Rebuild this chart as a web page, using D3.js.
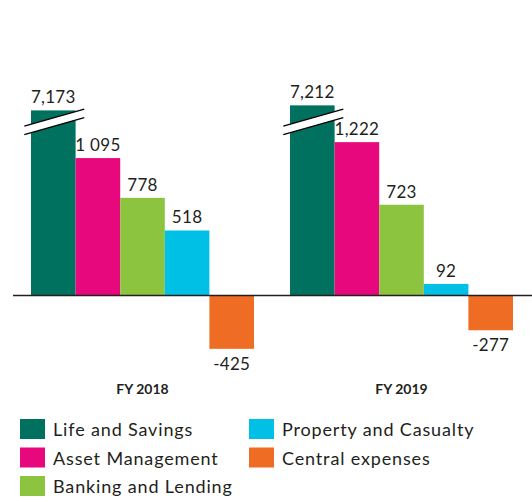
<!DOCTYPE html>
<html lang="en">
<head>
  <meta charset="UTF-8">
  <title>Operating result by segment</title>
  <style>
    body { margin: 0; background: #fff; }
    text { font-family: Lato, "Open Sans", sans-serif; fill: #231f20; }
  </style>
</head>
<body>
  <div id="my_dataviz"></div>
  <script src="https://d3js.org/d3.v7.min.js"></script>
  <script>
    // data
    var years = ["FY 2018", "FY 2019"];
    var segments = ["Life and Savings", "Asset Management", "Banking and Lending", "Property and Casualty", "Central expenses"];
    var lifeSavings = [7173, 7212];
    var assetManagement = [1095, 1222];
    var bankingLending = [778, 723];
    var propertyCasualty = [518, 92];
    var centralExpenses = [-425, -277];
    var labels2018 = ["7,173", "1 095", "778", "518", "-425"];
    var labels2019 = ["7,212", "1,222", "723", "92", "-277"];
    // Life bars are drawn cut (axis break), this is the height shown
    var lifeShown = [1475, 1515];
    var breakAt = 1350;

    var colors = ["#00705f", "#e8087e", "#8cc43f", "#00c0e6", "#ef6c25"];

    var series = [lifeSavings, assetManagement, bankingLending, propertyCasualty, centralExpenses];
    var labels = [labels2018, labels2019];

    var width = 532, height = 502;
    var svg = d3.select("#my_dataviz").append("svg")
      .attr("width", width).attr("height", height);

    // scales
    var x0 = d3.scaleBand().domain(years).range([31, 513]).paddingInner(36 / 259).paddingOuter(0);
    var x1 = d3.scaleBand().domain(segments).range([0, x0.bandwidth()]);
    var y = d3.scaleLinear().domain([-500, 1600]).range([358.25, 94.7]);

    var data = [];
    years.forEach(function (yr, i) {
      segments.forEach(function (s, j) {
        var v = series[j][i];
        var shown = j === 0 ? lifeShown[i] : v;
        data.push({ year: yr, seg: s, value: v, shown: shown, label: labels[i][j], color: colors[j], broken: j === 0 });
      });
    });

    var groups = svg.selectAll(".grp")
      .data(years).enter()
      .append("g")
      .attr("class", "grp")
      .attr("transform", function (d) { return "translate(" + x0(d) + ",0)"; });

    var bars = svg.append("g");
    bars.selectAll("rect")
      .data(data).enter()
      .append("rect")
      .attr("x", function (d) { return x0(d.year) + x1(d.seg); })
      .attr("width", x1.bandwidth())
      .attr("y", function (d) { return y(Math.max(0, d.shown)); })
      .attr("height", function (d) { return Math.abs(y(d.shown) - y(0)); })
      .style("fill", function (d) { return d.color; });

    // zero line
    svg.append("line")
      .attr("x1", 13).attr("x2", 532)
      .attr("y1", y(0)).attr("y2", y(0))
      .style("stroke", "#231f20").style("stroke-width", 1.3);

    // value labels
    svg.append("g").selectAll("text")
      .data(data).enter()
      .append("text")
      .attr("x", function (d) { return x0(d.year) + x1(d.seg) + x1.bandwidth() / 2; })
      .attr("y", function (d) { return d.shown >= 0 ? y(d.shown) - 7 : y(d.shown) + 21; })
      .attr("text-anchor", "middle")
      .style("font-size", "17px")
      .style("letter-spacing", "0.3px")
      .text(function (d) { return d.label; });

    // axis break marks on the Life bars
    var brk = svg.append("g");
    data.filter(function (d) { return d.broken; }).forEach(function (d) {
      var cx = x0(d.year) + x1(d.seg) + x1.bandwidth() / 2;
      var c = y(breakAt);
      var xa = cx - 29, xb = cx + 31;
      brk.append("polygon")
        .attr("points", [[xa, c], [xb, c - 17], [xb, c - 8.6], [xa, c + 8.6]].join(" "))
        .style("fill", "#fff");
      brk.append("line")
        .attr("x1", xa).attr("y1", c).attr("x2", xb).attr("y2", c - 17)
        .style("stroke", "#000").style("stroke-width", 1.4);
      brk.append("line")
        .attr("x1", xa).attr("y1", c + 8.6).attr("x2", xb).attr("y2", c - 8.4)
        .style("stroke", "#000").style("stroke-width", 1.4);
    });

    // year labels
    groups.append("text")
      .attr("x", x0.bandwidth() / 2)
      .attr("y", 394)
      .attr("text-anchor", "middle")
      .style("font-size", "14px")
      .style("font-weight", "bold")
      .text(function (d) { return d; });

    // legend
    var legend = svg.append("g").selectAll("g")
      .data(segments).enter()
      .append("g")
      .attr("transform", function (d, i) {
        var col = i < 3 ? 0 : 1, row = i < 3 ? i : i - 3;
        return "translate(" + (col ? 249 : 20) + "," + (419 + row * 28.5) + ")";
      });
    legend.append("rect")
      .attr("width", 25).attr("height", 20)
      .style("fill", function (d, i) { return colors[i]; });
    legend.append("text")
      .attr("x", 33).attr("y", 17)
      .style("font-size", "18px")
      .style("letter-spacing", "0.85px")
      .text(function (d) { return d; });
  </script>
</body>
</html>
